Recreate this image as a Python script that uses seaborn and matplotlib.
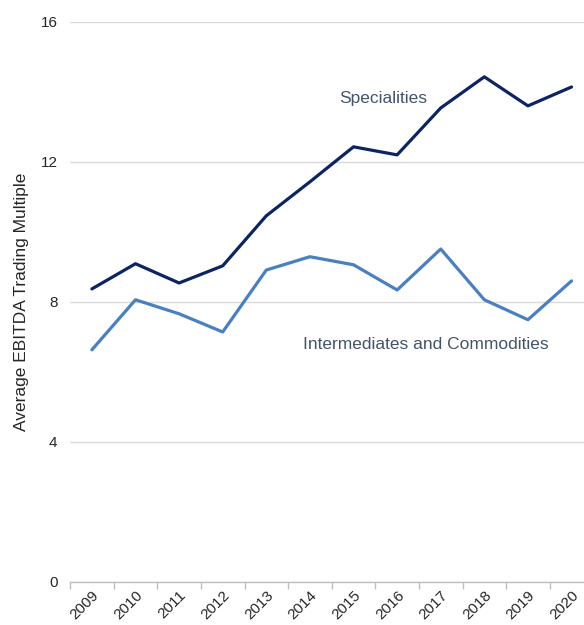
import numpy as np
import pandas as pd
import matplotlib
matplotlib.use("Agg")
import matplotlib.pyplot as plt
import matplotlib.transforms as mtransforms
import seaborn as sns
from matplotlib.ticker import FixedLocator

years = ["2009", "2010", "2011", "2012", "2013", "2014",
         "2015", "2016", "2017", "2018", "2019", "2020"]
specialities = [8.37, 9.09, 8.54, 9.03, 10.46, 11.43,
                12.43, 12.20, 13.54, 14.43, 13.60, 14.14]
intermediates = [6.63, 8.06, 7.66, 7.14, 8.91, 9.29,
                 9.06, 8.34, 9.51, 8.06, 7.49, 8.60]
series_names = ["Specialities", "Intermediates and Commodities"]
y_ticks = [0, 4, 8, 12, 16]

df = pd.DataFrame({
    "year": years * 2,
    "value": specialities + intermediates,
    "series": [series_names[0]] * len(years) + [series_names[1]] * len(years),
})

sns.set_theme(style="white")
plt.rcParams["font.family"] = ["Liberation Sans", "DejaVu Sans"]

fig = plt.figure(figsize=(5.84, 6.25), dpi=100)
ax = fig.add_axes([0.12, 0.069, 0.896, 0.896])

sns.lineplot(data=df, x="year", y="value", hue="series",
             palette=["#0c2461", "#4a7fc0"], linewidth=2.3,
             legend=False, ax=ax, sort=False)

ax.set_xlim(-0.5, len(years) - 0.5)
ax.set_ylim(0, 16)
ax.set_yticks(y_ticks)
ax.set_yticklabels([str(t) for t in y_ticks], fontsize=11, color="#262626")
ax.yaxis.grid(True, color="#d9d9d9", linewidth=1)
ax.set_axisbelow(True)

ax.set_xticks(range(len(years)))
ax.set_xticklabels(years, rotation=45, ha="right", rotation_mode="anchor",
                   fontsize=11, color="#262626")
# nudge the rotated year labels a little to the right, as in the original
shift = mtransforms.ScaledTranslation(4 / 72, 0, fig.dpi_scale_trans)
for lbl in ax.get_xticklabels():
    lbl.set_transform(lbl.get_transform() + shift)
ax.xaxis.set_minor_locator(FixedLocator(np.arange(-0.5, len(years), 1.0)))
ax.tick_params(axis="x", which="major", length=0, pad=4.5)
ax.tick_params(axis="x", which="minor", length=5, color="#bfbfbf", width=1, bottom=True)
ax.tick_params(axis="y", length=0, pad=9)

for side in ["top", "right", "left"]:
    ax.spines[side].set_visible(False)
ax.spines["bottom"].set_color("#bfbfbf")
ax.spines["bottom"].set_linewidth(1)

ax.set_xlabel("")
ax.set_ylabel("Average EBITDA Trading Multiple", fontsize=12.5, color="#262626", labelpad=8)

ax.text(6.67, 13.8, series_names[0], fontsize=12.5, color="#44546a",
        ha="center", va="center")
ax.text(7.66, 6.77, series_names[1], fontsize=12.5, color="#44546a",
        ha="center", va="center")

fig.savefig("out.png", dpi=100)
